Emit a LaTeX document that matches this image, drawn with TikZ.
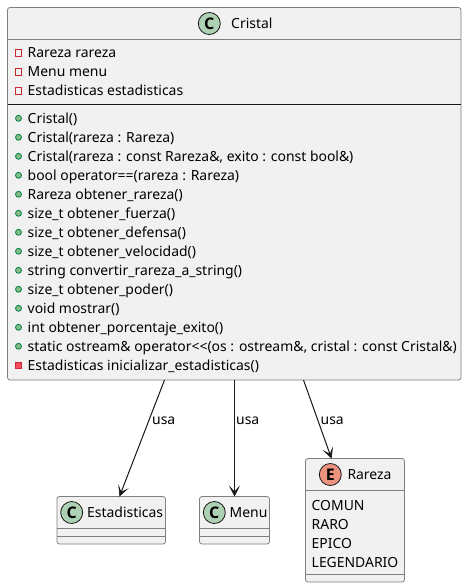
\documentclass[tikz,border=0pt]{standalone}
\usepackage{fontspec}
\setmainfont{Noto Sans}
\newfontfamily\badgefont{Open Sans}
\usetikzlibrary{arrows.meta,calc}
\definecolor{boxfill}{HTML}{F1F1F1}
\definecolor{boxline}{HTML}{7F7F7F}
\definecolor{ink}{HTML}{181818}
\definecolor{cgreen}{HTML}{ADD1B2}
\definecolor{ered}{HTML}{EB937F}
\definecolor{privline}{HTML}{C82930}
\definecolor{privfill}{HTML}{F24D5C}
\definecolor{publine}{HTML}{038048}
\definecolor{pubfill}{HTML}{84BE84}
\tikzset{
  x=1pt,y=-1pt,
  umlbox/.style={draw=boxline,fill=boxfill,line width=0.8pt,rounded corners=2.5pt,anchor=north west,inner sep=0,outer sep=0},
  sepline/.style={draw=boxline,line width=0.8pt},
  blacksep/.style={draw=ink,line width=0.8pt},
  badge/.style={circle,draw=ink,line width=0.8pt,minimum size=22pt,inner sep=0,text=black,font=\badgefont\fontsize{16}{16}\selectfont\bfseries},
  label/.style={anchor=base west,inner sep=0,text=black,font=\fontsize{13.93}{14}\selectfont},
  title/.style={label,anchor=base west},
  priv/.style={draw=privline,fill=none,line width=1pt,minimum size=6.2pt,inner sep=0},
  privf/.style={priv,fill=privfill},
  pub/.style={circle,draw=publine,fill=pubfill,line width=0.8pt,minimum size=6pt,inner sep=0},
  uses/.style={draw=ink,line width=1pt,-{Stealth[length=11pt,width=11pt,inset=6pt,line width=0.6pt,fill=ink]}},
}
\newcommand{\privrow}[3]{\node[priv] (p#1) at (18.5,#2-5) {};\node[label] (t#1) at (27.5,#2) {#3};}
\newcommand{\privfrow}[3]{\node[privf] (p#1) at (18.5,#2-5) {};\node[label] (t#1) at (27.5,#2) {#3};}
\newcommand{\pubrow}[3]{\node[pub] (p#1) at (18.5,#2-5) {};\node[label] (t#1) at (27.5,#2) {#3};}
\begin{document}
\begin{tikzpicture}
\useasboundingbox (0,0) rectangle (468,588);
\node[umlbox,minimum width=453.5pt,minimum height=372.5pt] (cristal) at (7.5,7.5) {};
\draw[sepline] (7.5,39.5) -- (461,39.5);
\draw[blacksep] (7.5,104.5) -- (461,104.5);
\node[badge,fill=cgreen] (cc) at (209.3,23.5) {C};
\node[title] (ct) at (231,28.5) {Cristal};
\privrow{a}{58}{Rareza rareza}
\privrow{b}{77}{Menu menu}
\privrow{c}{96}{Estadisticas estadisticas}
\pubrow{d}{123.3}{Cristal()}
\pubrow{e}{142.3}{Cristal(rareza : Rareza)}
\pubrow{f}{161.3}{Cristal(rareza : const Rareza\&, exito : const bool\&)}
\pubrow{g}{180.3}{bool operator==(rareza : Rareza)}
\pubrow{h}{199.3}{Rareza obtener\_rareza()}
\pubrow{i}{218.3}{size\_t obtener\_fuerza()}
\pubrow{j}{237.3}{size\_t obtener\_defensa()}
\pubrow{k}{256.3}{size\_t obtener\_velocidad()}
\pubrow{l}{275.3}{string convertir\_rareza\_a\_string()}
\pubrow{m}{294.3}{size\_t obtener\_poder()}
\pubrow{n}{313.3}{void mostrar()}
\pubrow{o}{332.3}{int obtener\_porcentaje\_exito()}
\pubrow{q}{351.3}{static ostream\& operator<{}<(os : ostream\&, cristal : const Cristal\&)}
\privfrow{r}{370.3}{Estadisticas inicializar\_estadisticas()}

\node[umlbox,minimum width=108.5pt,minimum height=47.5pt] (est) at (57,496.5) {};
\draw[sepline] (57,528.5) -- (165.5,528.5) (57,536.5) -- (165.5,536.5);
\node[badge,fill=cgreen] (ec) at (71.7,512.5) {C};
\node[title] (et) at (87,517.5) {Estadisticas};

\node[umlbox,minimum width=70pt,minimum height=47.5pt] (menu) at (199.5,496.5) {};
\draw[sepline] (199.5,528.5) -- (269.5,528.5) (199.5,536.5) -- (269.5,536.5);
\node[badge,fill=cgreen] (mc) at (214.3,512.5) {C};
\node[title] (mt) at (229.5,517.5) {Menu};

\node[umlbox,minimum width=99pt,minimum height=123.5pt] (rareza) at (305.5,458.5) {};
\draw[sepline] (305.5,490.5) -- (404.5,490.5) (305.5,574.5) -- (404.5,574.5);
\node[badge,fill=ered] (rc) at (330.3,474.5) {E};
\node[title] (rt) at (347.3,479.5) {Rareza};
\node[label] (r1) at (311.5,510) {COMUN};
\node[label] (r2) at (311.5,529) {RARO};
\node[label] (r3) at (311.5,548) {EPICO};
\node[label] (r4) at (311.5,567) {LEGENDARIO};

\coordinate (s1) at (164.5,380);
\coordinate (s2) at (234.5,380);
\coordinate (s3) at (303.5,380);
\coordinate (e1) at (119.5,496.5);
\coordinate (e2) at (234.5,496.5);
\coordinate (e3) at (331.5,458.5);
\draw[uses] (s1 |- cristal.south) -- (e1 |- est.north);
\draw[uses] (s2 |- cristal.south) -- (e2 |- menu.north);
\draw[uses] (s3 |- cristal.south) -- (e3 |- rareza.north);
\node[label] (u1) at (152,424) {usa};
\node[label] (u2) at (236,424) {usa};
\node[label] (u3) at (320.5,424) {usa};
\end{tikzpicture}
\end{document}
